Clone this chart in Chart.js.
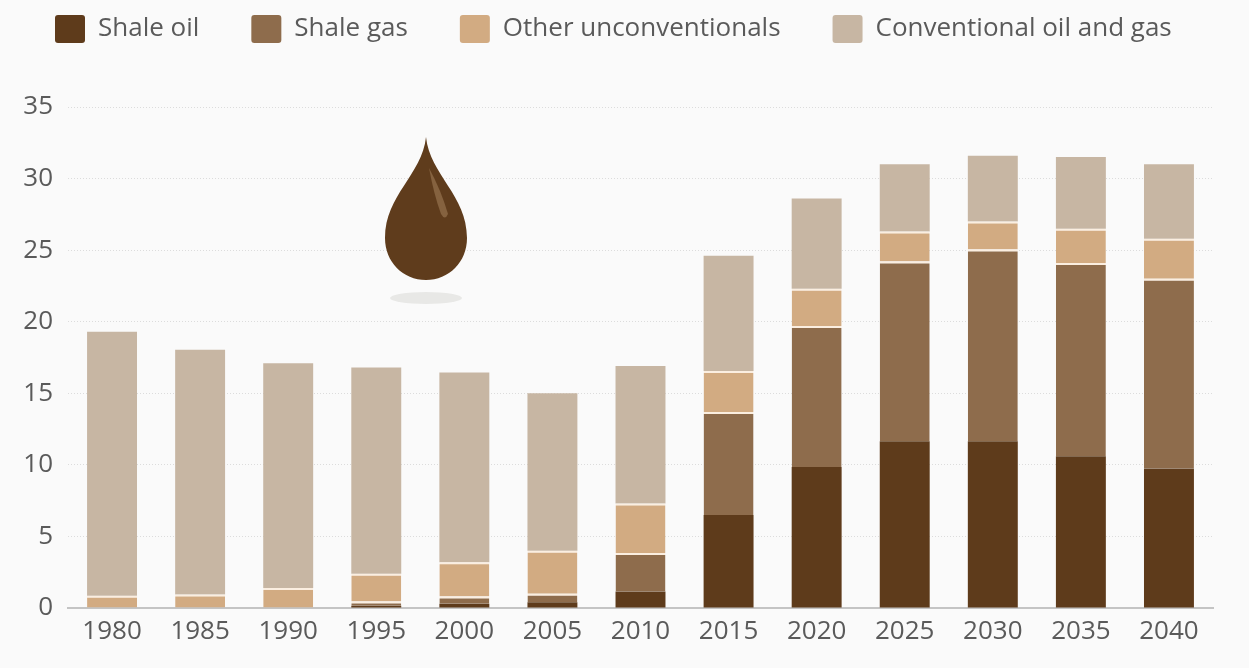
<!DOCTYPE html>
<html lang="en">

<head>
    <meta charset="UTF-8">
    <title>Shale oil and gas</title>
    <style>
        html, body { margin: 0; padding: 0; background: #fafafa; }
        canvas { display: block; }
    </style>
</head>

<body>
    <canvas id="myChart" width="1249" height="668"></canvas>
    <script src="https://cdn.jsdelivr.net/npm/chart.js"></script>
    <script>
        // values, one segment per year
        const v_years = ["1980", "1985", "1990", "1995", "2000", "2005", "2010", "2015", "2020", "2025", "2030", "2035", "2040"];
        const v_shaleOil = [0, 0, 0, 0.15, 0.3, 0.4, 1.15, 6.5, 9.85, 11.65, 11.65, 10.6, 9.75];
        const v_shaleGas = [0, 0, 0, 0.3, 0.5, 0.6, 2.7, 7.2, 9.85, 12.55, 13.4, 13.5, 13.25];
        const v_other = [0.85, 0.95, 1.4, 1.95, 2.4, 3.0, 3.45, 2.85, 2.6, 2.1, 1.95, 2.4, 2.8];
        const v_conventional = [18.45, 17.1, 15.7, 14.4, 13.25, 11.0, 9.6, 8.05, 6.3, 4.7, 4.6, 5.0, 5.2];
        const v_yTicks = [0, 5, 10, 15, 20, 25, 30, 35];

        const v_textColor = "#5a5a5a";
        const v_font = { family: "'Open Sans'", size: 26 };
        const v_sep = "#fbeee0";

        // background, legend shift and the oil drop
        const v_decor = {
            id: "decor",
            beforeDraw(chart) {
                const c = chart.ctx;
                c.save();
                c.fillStyle = "#fafafa";
                c.fillRect(0, 0, chart.width, chart.height);
                c.restore();
            },
            afterLayout(chart) {
                chart.legend.top = -37;
            },
            afterDraw(chart) {
                const c = chart.ctx;
                c.save();
                c.fillStyle = "#e8e8e6";
                c.beginPath();
                c.ellipse(426, 298, 36, 6, 0, 0, Math.PI * 2);
                c.fill();
                c.fillStyle = "#5f3c1c";
                c.beginPath();
                c.moveTo(426, 137);
                c.bezierCurveTo(430, 175, 467, 195, 467, 238);
                c.bezierCurveTo(467, 262, 449, 280, 426, 280);
                c.bezierCurveTo(403, 280, 385, 262, 385, 238);
                c.bezierCurveTo(385, 195, 422, 175, 426, 137);
                c.fill();
                c.fillStyle = "#85623f";
                c.beginPath();
                c.moveTo(429, 168);
                c.quadraticCurveTo(441, 190, 448, 214);
                c.quadraticCurveTo(445, 221, 441, 214);
                c.quadraticCurveTo(434, 195, 429, 168);
                c.fill();
                c.restore();
            }
        };

        const ctx = document.getElementById("myChart");
        const myChart = new Chart(ctx, {
            type: "bar",
            data: {
                labels: v_years,
                datasets: [
                    { label: "Shale oil", data: v_shaleOil, backgroundColor: "#5e3b1b", borderWidth: 0 },
                    { label: "Shale gas", data: v_shaleGas, backgroundColor: "#8e6c4c", borderColor: v_sep, borderWidth: { top: 2 }, borderSkipped: false },
                    { label: "Other unconventionals", data: v_other, backgroundColor: "#d2ab82", borderColor: v_sep, borderWidth: { top: 2 }, borderSkipped: false },
                    { label: "Conventional oil and gas", data: v_conventional, backgroundColor: "#c7b6a3", borderWidth: 0 }
                ]
            },
            options: {
                responsive: false,
                animation: false,
                layout: { padding: { left: 3, right: 10, top: 17, bottom: 0 } },
                datasets: { bar: { categoryPercentage: 1, barPercentage: 0.567 } },
                plugins: {
                    tooltip: { enabled: false },
                    legend: {
                        position: "top",
                        align: "start",
                        labels: {
                            font: v_font,
                            color: v_textColor,
                            boxWidth: 30,
                            boxHeight: 28,
                            padding: 52,
                            useBorderRadius: true,
                            borderRadius: 3,
                            generateLabels(chart) {
                                const v_items = Chart.defaults.plugins.legend.labels.generateLabels(chart);
                                v_items.forEach((v_item) => { v_item.lineWidth = 0; });
                                return v_items;
                            }
                        }
                    }
                },
                scales: {
                    x: {
                        stacked: true,
                        grid: { display: false },
                        border: { color: "#c4c4c4", width: 2 },
                        ticks: { font: v_font, color: v_textColor, maxRotation: 0, autoSkip: false, padding: 0 },
                        afterFit(scale) { scale.height = 60; }
                    },
                    y: {
                        stacked: true,
                        min: 0,
                        max: 35,
                        grid: { color: "#dcdcdc", tickLength: 0 },
                        border: { display: false, dash: [1, 2] },
                        afterBuildTicks(scale) { scale.ticks = v_yTicks.map((v) => ({ value: v })); },
                        ticks: { font: v_font, color: v_textColor, padding: 15 },
                        afterFit(scale) { scale.width = 65; }
                    },
                    // empty axis, keeps the plot's right edge while the legend gets the full width
                    ySpace: {
                        position: "right",
                        grid: { display: false },
                        border: { display: false },
                        ticks: { display: false },
                        afterFit(scale) { scale.width = 26; }
                    }
                }
            },
            plugins: [v_decor]
        });
    </script>
</body>

</html>
